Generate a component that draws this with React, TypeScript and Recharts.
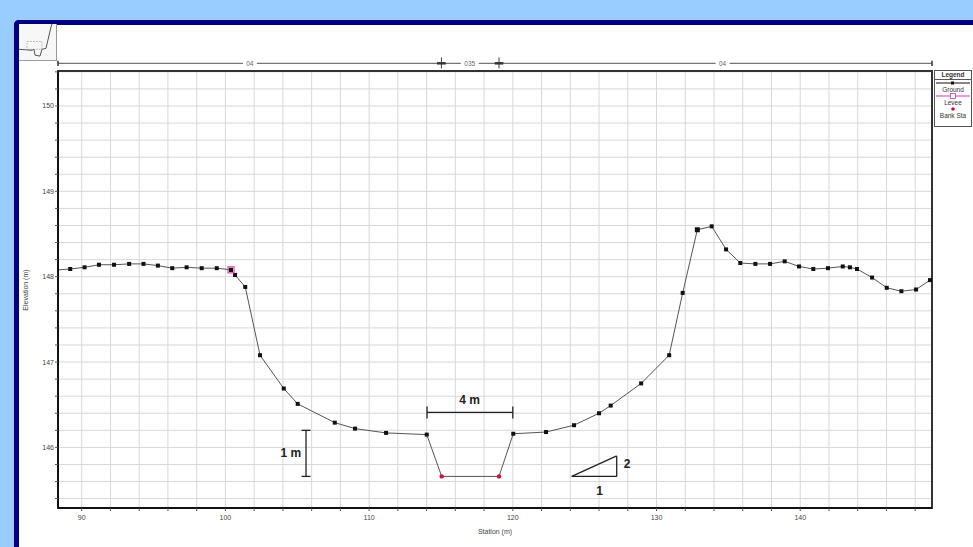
import React from 'react';
import {
  ComposedChart,
  Line,
  Scatter,
  XAxis,
  YAxis,
  CartesianGrid,
  ReferenceLine,
  ReferenceDot,
  ReferenceArea,
} from 'recharts';

// Ground profile (station m, elevation m)
const stations = [
  88.35, 89.2, 90.2, 91.2, 92.25, 93.3, 94.3, 95.3, 96.3, 97.3, 98.35, 99.4, 100.39, 100.67, 101.38,
  102.41, 104.06, 105.03, 107.61, 109.02, 111.18, 114.01, 115.05, 119.04, 120.03, 122.31, 124.26,
  126.0, 126.81, 128.93, 130.88, 131.82, 132.84, 133.84, 134.84, 135.83, 136.88, 137.9, 138.92,
  139.92, 140.91, 141.93, 142.96, 143.46, 143.95, 145.0, 146.02, 147.04, 148.06, 149.03,
];
const elevations = [
  148.08, 148.09, 148.11, 148.14, 148.14, 148.15, 148.15, 148.13, 148.1, 148.11, 148.1, 148.1, 148.08,
  148.02, 147.88, 147.08, 146.69, 146.51, 146.29, 146.22, 146.17, 146.15, 145.66, 145.66, 146.16,
  146.18, 146.26, 146.4, 146.49, 146.75, 147.08, 147.81, 148.55, 148.59, 148.32, 148.16, 148.15,
  148.15, 148.18, 148.12, 148.09, 148.1, 148.12, 148.11, 148.09, 147.99, 147.87, 147.83, 147.85,
  147.96,
];

const bankStations = [115.05, 119.04];
const bankElevations = [145.66, 145.66];
const leveeStations = [100.39];
const leveeElevations = [148.08];

// Manning's n regions along the top
const nBreaks = [115.03, 119.04];
const nLabels = ['04', '035', '04'];
const nLabelStations = [101.7, 117.0, 134.6];

const xTicks = [90, 92, 94, 96, 98, 100, 102, 104, 106, 108, 110, 112, 114, 116, 118, 120, 122, 124, 126, 128, 130, 132, 134, 136, 138, 140, 142, 144, 146, 148];
const yTicks = [
  145.4, 145.6, 145.8, 146, 146.2, 146.4, 146.6, 146.8, 147, 147.2, 147.4, 147.6, 147.8, 148, 148.2,
  148.4, 148.6, 148.8, 149, 149.2, 149.4, 149.6, 149.8, 150, 150.2, 150.4,
];

const X_MIN = 88.35;
const X_MAX = 149.17;
const Y_MIN = 145.29;
const Y_MAX = 150.41;

// thumbnail (plan view sketch)
const thumbX = [0, 13, 15, 16, 21, 23, 27, 32, 33];
const thumbY = [11, 10, 11, 5, 4, 11, 12, 34, 37];

const groundData = stations.map((x, i) => ({ x, y: elevations[i] }));
const bankData = bankStations.map((x, i) => ({ x, y: bankElevations[i] }));
const leveeData = leveeStations.map((x, i) => ({ x, y: leveeElevations[i] }));
const thumbData = thumbX.map((x, i) => ({ x, y: thumbY[i] }));

const FONT = "Arial, 'Liberation Sans', sans-serif";
const hideDotIdx = [0, 22, 23];

const GroundDot = (props: any) => {
  const { cx, cy, index } = props;
  if (hideDotIdx.includes(index)) return <g key={`d${index}`} />;
  const s = index === 32 ? 5 : 4;
  return <rect key={`d${index}`} x={cx - s / 2} y={cy - s / 2} width={s} height={s} fill="#111" />;
};

const BankShape = (p: any) => <circle cx={p.cx} cy={p.cy} r={2.2} fill="#d0103a" />;
const LeveeShape = (p: any) => (
  <g>
    <rect x={p.cx - 2} y={p.cy - 2} width={4} height={4} fill="#111" />
    <rect x={p.cx - 3} y={p.cy - 3} width={6} height={6} fill="none" stroke="#e040a0" strokeWidth={1.2} />
  </g>
);

const textDot = (txt: string, size: number, bold: boolean, anchor: string = 'middle') => (p: any) => (
  <text
    x={p.cx}
    y={p.cy}
    textAnchor={anchor as any}
    dominantBaseline="central"
    fontFamily={FONT}
    fontSize={size}
    fontWeight={bold ? 'bold' : 'normal'}
    fill="#222"
  >
    {txt}
  </text>
);

const nLabelDot = (txt: string) => (p: any) => {
  const w = txt.length * 4 + 6;
  return (
    <g>
      <rect x={p.cx - w / 2} y={p.cy - 4} width={w} height={8} fill="#fff" />
      <text x={p.cx} y={p.cy} textAnchor="middle" dominantBaseline="central" fontFamily={FONT} fontSize={6.5} fill="#666">
        {txt}
      </text>
    </g>
  );
};

const XTick = (p: any) => {
  const v = p.payload.value;
  const show = Math.abs(v % 10) < 1e-6;
  return (
    <g>
      <line x1={p.x} y1={508} x2={p.x} y2={511} stroke="#555" />
      {show ? (
        <text x={p.x} y={517} textAnchor="middle" dominantBaseline="central" fontFamily={FONT} fontSize={7} fill="#444">
          {String(v)}
        </text>
      ) : null}
    </g>
  );
};

const YTick = (p: any) => {
  const v = p.payload.value;
  const show = Math.abs(v - Math.round(v)) < 1e-6;
  return (
    <g>
      <line x1={55} y1={p.y} x2={58} y2={p.y} stroke="#555" />
      {show ? (
        <text x={54} y={p.y} textAnchor="end" dominantBaseline="central" fontFamily={FONT} fontSize={7} fill="#444">
          {String(Math.round(v))}
        </text>
      ) : null}
    </g>
  );
};

const LegendBox = () => (
  <div
    style={{
      position: 'absolute',
      left: 934,
      top: 70,
      width: 38,
      height: 57,
      border: '1px solid #555',
      background: '#fff',
      fontFamily: FONT,
      fontSize: 6.5,
      color: '#333',
      textAlign: 'center',
      lineHeight: '7px',
      boxSizing: 'border-box',
    }}
  >
    <div style={{ borderBottom: '1px solid #555', fontWeight: 'bold', height: 8, lineHeight: '8px' }}>Legend</div>
    <svg width={36} height={6} style={{ display: 'block' }}>
      <line x1={1} y1={3} x2={35} y2={3} stroke="#111" strokeWidth={1} />
      <rect x={16} y={1.5} width={3} height={3} fill="#111" />
    </svg>
    <div>Ground</div>
    <svg width={36} height={6} style={{ display: 'block' }}>
      <line x1={1} y1={3} x2={35} y2={3} stroke="#c040c0" strokeWidth={1} />
      <rect x={15.5} y={0.5} width={5} height={5} fill="#fff" stroke="#c040c0" strokeWidth={0.8} />
    </svg>
    <div>Levee</div>
    <svg width={36} height={6} style={{ display: 'block' }}>
      <circle cx={18} cy={3} r={1.8} fill="#d0103a" />
    </svg>
    <div>Bank Sta</div>
  </div>
);

export default function App() {
  return (
    <div style={{ position: 'absolute', left: 0, top: 0, width: 973, height: 547, background: '#99ccff', overflow: 'hidden' }}>
      <div
        style={{
          position: 'absolute',
          left: 14,
          top: 20,
          width: 959,
          height: 527,
          background: '#fff',
          borderTop: '5px solid #000080',
          borderLeft: '5px solid #000080',
          borderTopLeftRadius: 5,
          boxSizing: 'border-box',
        }}
      />
      {/* thumbnail */}
      <div
        style={{
          position: 'absolute',
          left: 19,
          top: 24,
          width: 38,
          height: 37,
          background: '#f7f7f7',
          borderRight: '1px solid #999',
          borderBottom: '1px solid #999',
          boxSizing: 'border-box',
        }}
      >
        <ComposedChart width={37} height={36} data={thumbData} margin={{ top: 0, right: 0, bottom: 0, left: 0 }}>
          <XAxis dataKey="x" type="number" domain={[0, 37]} hide />
          <YAxis type="number" domain={[0, 36]} hide />
          <ReferenceArea x1={8} x2={23} y1={11} y2={19} fill="none" stroke="#bbb" strokeDasharray="2 1" />
          <Line dataKey="y" stroke="#555" strokeWidth={1} dot={false} isAnimationActive={false} />
        </ComposedChart>
      </div>
      <div style={{ position: 'absolute', left: 0, top: 0 }}>
        <ComposedChart width={973} height={547} data={groundData} margin={{ top: 71, right: 41, bottom: 9, left: 28 }}>
          <CartesianGrid stroke="#d8d8d8" strokeWidth={1} />
          <XAxis
            dataKey="x"
            type="number"
            domain={[X_MIN, X_MAX]}
            ticks={xTicks}
            allowDataOverflow
            interval={0}
            height={30}
            tickLine={false}
            tick={XTick}
            axisLine={{ stroke: '#111', strokeWidth: 2 }}
            label={{
              content: () => (
                <text x={495} y={531} textAnchor="middle" dominantBaseline="central" fontFamily={FONT} fontSize={7} fill="#444">
                  Station (m)
                </text>
              ),
            }}
          />
          <YAxis
            dataKey="y"
            type="number"
            domain={[Y_MIN, Y_MAX]}
            ticks={yTicks}
            allowDataOverflow
            interval={0}
            width={30}
            tickLine={false}
            tick={YTick}
            axisLine={{ stroke: '#111', strokeWidth: 2 }}
            label={{
              content: () => (
                <text
                  x={25}
                  y={290}
                  transform="rotate(-90 25 290)"
                  textAnchor="middle"
                  dominantBaseline="central"
                  fontFamily={FONT}
                  fontSize={7}
                  fill="#444"
                >
                  Elevation (m)
                </text>
              ),
            }}
          />
          <ReferenceArea x1={X_MIN} x2={X_MAX} y1={Y_MIN} y2={Y_MAX} fill="none" stroke="#333" strokeWidth={2} ifOverflow="visible" />

          {/* Manning's n dimension bar */}
          <ReferenceLine segment={[{ x: X_MIN, y: 150.5 }, { x: X_MAX, y: 150.5 }]} stroke="#555" strokeWidth={1} ifOverflow="visible" />
          {nBreaks.map((b, i) => (
            <ReferenceLine key={`nb${i}`} segment={[{ x: b, y: 150.44 }, { x: b, y: 150.57 }]} stroke="#444" strokeWidth={1} ifOverflow="visible" />
          ))}
          {nBreaks.map((b, i) => (
            <ReferenceLine key={`nba${i}`} segment={[{ x: b - 0.3, y: 150.5 }, { x: b + 0.3, y: 150.5 }]} stroke="#333" strokeWidth={2.5} ifOverflow="visible" />
          ))}
          <ReferenceLine segment={[{ x: X_MIN, y: 150.47 }, { x: X_MIN, y: 150.53 }]} stroke="#333" strokeWidth={1.5} ifOverflow="visible" />
          <ReferenceLine segment={[{ x: X_MAX, y: 150.47 }, { x: X_MAX, y: 150.53 }]} stroke="#333" strokeWidth={1.5} ifOverflow="visible" />
          {nLabels.map((t, i) => (
            <ReferenceDot key={`nl${i}`} x={nLabelStations[i]} y={150.5} r={0} ifOverflow="visible" shape={nLabelDot(t)} />
          ))}

          {/* 4 m dimension */}
          <ReferenceLine segment={[{ x: 114.03, y: 146.41 }, { x: 120.0, y: 146.41 }]} stroke="#222" strokeWidth={1.3} />
          <ReferenceLine segment={[{ x: 114.03, y: 146.34 }, { x: 114.03, y: 146.48 }]} stroke="#222" strokeWidth={1.3} />
          <ReferenceLine segment={[{ x: 120.0, y: 146.34 }, { x: 120.0, y: 146.48 }]} stroke="#222" strokeWidth={1.3} />
          <ReferenceDot x={117.0} y={146.55} r={0} shape={textDot('4 m', 12, true)} />

          {/* 1 m dimension */}
          <ReferenceLine segment={[{ x: 105.61, y: 145.66 }, { x: 105.61, y: 146.2 }]} stroke="#222" strokeWidth={1.3} />
          <ReferenceLine segment={[{ x: 105.3, y: 146.2 }, { x: 105.92, y: 146.2 }]} stroke="#222" strokeWidth={1.3} />
          <ReferenceLine segment={[{ x: 105.3, y: 145.66 }, { x: 105.92, y: 145.66 }]} stroke="#222" strokeWidth={1.3} />
          <ReferenceDot x={104.55} y={145.93} r={0} shape={textDot('1 m', 12, true)} />

          {/* slope triangle */}
          <ReferenceLine segment={[{ x: 124.1, y: 145.66 }, { x: 127.23, y: 145.9 }]} stroke="#222" strokeWidth={1.3} />
          <ReferenceLine segment={[{ x: 127.23, y: 145.66 }, { x: 127.23, y: 145.9 }]} stroke="#222" strokeWidth={1.3} />
          <ReferenceLine segment={[{ x: 124.1, y: 145.66 }, { x: 127.23, y: 145.66 }]} stroke="#222" strokeWidth={1.3} />
          <ReferenceDot x={127.95} y={145.8} r={0} shape={textDot('2', 12, true)} />
          <ReferenceDot x={126.03} y={145.49} r={0} shape={textDot('1', 12, true)} />

          <Line
            dataKey="y"
            stroke="#555"
            strokeWidth={1}
            dot={GroundDot}
            activeDot={false}
            isAnimationActive={false}
          />
          <Scatter data={leveeData} dataKey="y" shape={LeveeShape} isAnimationActive={false} />
          <Scatter data={bankData} dataKey="y" shape={BankShape} isAnimationActive={false} />
        </ComposedChart>
      </div>
      <LegendBox />
    </div>
  );
}
